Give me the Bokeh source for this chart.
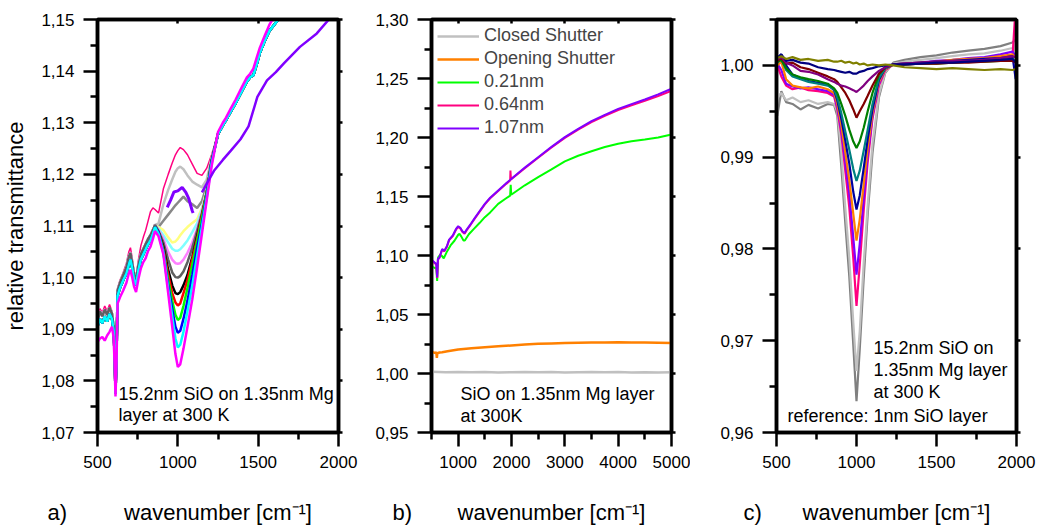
from bokeh.plotting import figure
from bokeh.models import (LinearAxis, FixedTicker, CustomJSTickFormatter,
                          Label, Legend, LegendItem, Range1d)
from bokeh.core.properties import value
from bokeh.layouts import row, column
from bokeh.embed import file_html
from bokeh.resources import INLINE

FONT = "Liberation Sans"

# ---------------- Tick positions ----------------
a_xticks = [500, 1000, 1500, 2000]
a_xminor = [750, 1250, 1750]
a_yticks = [1.07, 1.08, 1.09, 1.10, 1.11, 1.12, 1.13, 1.14, 1.15]
a_yminor = [1.075, 1.085, 1.095, 1.105, 1.115, 1.125, 1.135, 1.145]
b_xticks = [1000, 2000, 3000, 4000, 5000]
b_xminor = [500, 1500, 2500, 3500, 4500]
b_yticks = [0.95, 1.00, 1.05, 1.10, 1.15, 1.20, 1.25, 1.30]
b_yminor = [0.975, 1.025, 1.075, 1.125, 1.175, 1.225, 1.275]
c_xticks = [500, 1000, 1500, 2000]
c_xminor = [750, 1250, 1750]
c_yticks = [0.96, 0.97, 0.98, 0.99, 1.00]
c_yminor = [0.965, 0.975, 0.985, 0.995, 1.005]

panel_tags = ["a)", "b)", "c)"]
x_title = "wavenumber [cm\u207b\u00b9]"

# ---------------- Panel a data ----------------
wn_low = [500, 515, 530, 545, 560, 575, 590, 600, 607, 612, 618, 625, 640, 660, 680,
          695, 705, 715, 728, 740, 755, 770, 785, 800, 815, 830, 845, 858]
low_top = [1.0915, 1.0935, 1.0925, 1.0938, 1.0928, 1.0942, 1.093, 1.0905, 1.085, 1.078,
           1.085, 1.0975, 1.099, 1.1005, 1.102, 1.104, 1.1048, 1.103, 1.1005, 1.0995,
           1.1025, 1.1045, 1.1055, 1.1065, 1.1075, 1.1082, 1.1092, 1.1102]
low_mid = [1.0905, 1.092, 1.0912, 1.0925, 1.0915, 1.093, 1.092, 1.0898, 1.0845, 1.0775,
           1.084, 1.0965, 1.098, 1.0995, 1.1008, 1.1025, 1.1035, 1.102, 1.0995, 1.0985,
           1.1015, 1.1035, 1.1045, 1.1055, 1.1065, 1.1072, 1.1085, 1.1098]
low_mag = [1.0875, 1.0882, 1.0885, 1.0878, 1.0888, 1.0895, 1.0905, 1.0885, 1.083, 1.077,
           1.083, 1.095, 1.0962, 1.0975, 1.099, 1.1008, 1.1015, 1.1002, 1.0982, 1.0972,
           1.0998, 1.1018, 1.103, 1.1038, 1.1052, 1.106, 1.1075, 1.109]
low_pink = [1.0925, 1.094, 1.0932, 1.0945, 1.0935, 1.0948, 1.0935, 1.091, 1.0855, 1.0785,
            1.086, 1.098, 1.0995, 1.101, 1.1028, 1.105, 1.1058, 1.104, 1.1012, 1.1002,
            1.1035, 1.1062, 1.1078, 1.1092, 1.111, 1.1128, 1.1135, 1.1132]

wn_dip = [880, 910, 940, 965, 985, 1000, 1015, 1035, 1060, 1090, 1120, 1150, 1180, 1210]
dip_pink = [1.1125, 1.1172, 1.12, 1.1222, 1.1238, 1.1246, 1.1252, 1.1248, 1.1238, 1.122, 1.1202, 1.1198, 1.1212, 1.1238]
dip_ltgray = [1.1105, 1.1142, 1.117, 1.119, 1.1205, 1.1212, 1.1215, 1.121, 1.1198, 1.1186, 1.118, 1.1175, 1.119, 1.1232]
dip_gray = [1.1098, 1.111, 1.1122, 1.1132, 1.114, 1.1145, 1.115, 1.1157, 1.1148, 1.1142, 1.1135, 1.1148, 1.1178, 1.1228]
dip_yellow = [1.1098, 1.1092, 1.1078, 1.1068, 1.107, 1.1075, 1.1082, 1.109, 1.1098, 1.1106, 1.1113, 1.1135, 1.117, 1.1225]
dip_ltcyan = [1.1095, 1.1082, 1.1068, 1.1056, 1.1052, 1.1052, 1.1055, 1.1062, 1.1072, 1.1088, 1.1105, 1.1132, 1.117, 1.1225]
dip_ltmag = [1.1092, 1.1075, 1.105, 1.1035, 1.1028, 1.1027, 1.1028, 1.1035, 1.1048, 1.1068, 1.1095, 1.1128, 1.1168, 1.1225]
dip_dgray = [1.109, 1.1068, 1.1035, 1.101, 1.1001, 1.1, 1.1003, 1.1012, 1.103, 1.1058, 1.109, 1.1125, 1.1165, 1.1225]
dip_black = [1.1088, 1.106, 1.1015, 1.0985, 1.097, 1.0968, 1.0972, 1.0985, 1.1005, 1.104, 1.108, 1.112, 1.1165, 1.1225]
dip_red = [1.1088, 1.1055, 1.1005, 1.097, 1.0952, 1.0946, 1.095, 1.097, 1.0995, 1.1035, 1.1075, 1.112, 1.1165, 1.1225]
dip_green = [1.1088, 1.1052, 1.0995, 1.0955, 1.0928, 1.0918, 1.0922, 1.0945, 1.098, 1.1025, 1.107, 1.1115, 1.1165, 1.1225]
dip_blue = [1.1088, 1.105, 1.0985, 1.094, 1.0905, 1.0893, 1.0897, 1.092, 1.0955, 1.1005, 1.1058, 1.1105, 1.116, 1.1225]
dip_cyan = [1.1085, 1.1048, 1.0978, 1.0925, 1.0882, 1.0865, 1.087, 1.0895, 1.0935, 1.0985, 1.1042, 1.1098, 1.1155, 1.122]
dip_mag = [1.108, 1.1045, 1.097, 1.0905, 1.0852, 1.0827, 1.0832, 1.0862, 1.0905, 1.0958, 1.102, 1.1085, 1.115, 1.1215]

wn_high = [1250, 1280, 1300, 1330, 1360, 1400, 1430, 1450, 1470, 1490, 1510, 1540, 1570, 1600, 1630, 1660]
high_main = [1.1278, 1.1295, 1.1305, 1.1322, 1.1338, 1.1362, 1.138, 1.1388, 1.1392, 1.1412,
             1.1435, 1.1458, 1.1478, 1.149, 1.1502, 1.1515]
high_mag = [1.1282, 1.13, 1.131, 1.1328, 1.1345, 1.137, 1.1388, 1.1395, 1.1405, 1.1425,
            1.1445, 1.1468, 1.149, 1.1505, 1.152, 1.153]

violet_a1_x = [934, 955, 976, 1000, 1027, 1050, 1068, 1089, 1095]
violet_a1_y = [1.1136, 1.115, 1.1166, 1.1168, 1.1175, 1.1165, 1.1153, 1.113, 1.1125]
violet_a2_x = [1150, 1190, 1225, 1280, 1330, 1390, 1440, 1495, 1555, 1610, 1660, 1760, 1865, 1940, 1960]
violet_a2_y = [1.1165, 1.1188, 1.1207, 1.1228, 1.1246, 1.1268, 1.1293, 1.135, 1.1382, 1.1398,
               1.1415, 1.1447, 1.1473, 1.150, 1.151]

# ---------------- Panel b data ----------------
b_closed_x = [510, 760, 1000, 1250, 1500, 1750, 2000, 2250, 2500, 2750, 3000, 3250, 3500,
              3750, 4000, 4250, 4500, 4750, 5000]
b_closed_y = [1.0015, 1.0011, 1.0013, 1.001, 1.0012, 1.0009, 1.0011, 1.0013, 1.001, 1.0012,
              1.0009, 1.0011, 1.0013, 1.001, 1.0012, 1.0009, 1.0011, 1.0008, 1.0010]
b_open_x = [510, 560, 590, 600, 610, 650, 700, 800, 1000, 1250, 1500, 1750, 2000, 2250, 2500,
            2750, 3000, 3250, 3500, 3750, 4000, 4250, 4500, 4750, 5000]
b_open_y = [1.0183, 1.0175, 1.0178, 1.0132, 1.0172, 1.0178, 1.018, 1.0188, 1.0203, 1.0213,
            1.0222, 1.023, 1.0238, 1.0245, 1.0252, 1.0255, 1.0258, 1.026, 1.0262, 1.0263,
            1.0264, 1.0263, 1.0262, 1.026, 1.0258]
b_021_x = [510, 560, 590, 606, 625, 660, 700, 730, 780, 857, 930, 1000, 1025, 1060, 1100, 1125,
           1200, 1295, 1400, 1500, 1600, 1750, 1900, 1975, 1985, 1995, 2250, 2500, 2750, 3000,
           3250, 3500, 3750, 4000, 4250, 4500, 4750, 5000]
b_021_y = [1.0905, 1.0895, 1.0895, 1.0785, 1.0985, 1.1005, 1.0995, 1.0975, 1.1025, 1.1085,
           1.1125, 1.1175, 1.1184, 1.116, 1.1128, 1.1127, 1.118, 1.1226, 1.1275, 1.1325,
           1.1365, 1.1438, 1.1485, 1.1508, 1.16, 1.1515, 1.1595, 1.1664, 1.173, 1.1797,
           1.1845, 1.1884, 1.192, 1.1947, 1.1968, 1.1983, 1.2, 1.2025]
b_064_x = [510, 560, 590, 606, 620, 650, 700, 740, 790, 830, 900, 960, 1000, 1040, 1080, 1120,
           1160, 1230, 1300, 1400, 1500, 1600, 1750, 1900, 1975, 1980, 1990, 2250, 2500, 2750,
           3000, 3250, 3500, 3750, 4000, 4250, 4500, 4750, 5000]
b_064_y = [1.0955, 1.0935, 1.0925, 1.081, 1.0965, 1.098, 1.105, 1.1035, 1.1075, 1.113, 1.1165,
           1.122, 1.1243, 1.123, 1.12, 1.1185, 1.1215, 1.1258, 1.1305, 1.137, 1.1433, 1.1485,
           1.1546, 1.1607, 1.1635, 1.172, 1.1645, 1.174, 1.1828, 1.1915, 1.1997, 1.2066,
           1.213, 1.2183, 1.2233, 1.2272, 1.231, 1.2352, 1.2395]
b_107_x = [510, 560, 590, 606, 620, 650, 700, 740, 790, 830, 900, 960, 1000, 1040, 1080, 1120,
           1160, 1230, 1300, 1400, 1500, 1600, 1750, 1900, 2000, 2250, 2500, 2750, 3000, 3250,
           3500, 3750, 4000, 4250, 4500, 4750, 5000]
b_107_y = [1.096, 1.094, 1.093, 1.0815, 1.097, 1.0985, 1.1055, 1.104, 1.108, 1.1135, 1.117,
           1.1225, 1.1248, 1.1235, 1.1205, 1.119, 1.122, 1.1263, 1.131, 1.1375, 1.1438, 1.149,
           1.1551, 1.1612, 1.165, 1.1745, 1.1833, 1.1921, 1.2003, 1.2073, 1.2138, 1.2192,
           1.2243, 1.2283, 1.2322, 1.2365, 1.2413]
b_legend = ["Closed Shutter", "Opening Shutter", "0.21nm", "0.64nm", "1.07nm"]

# ---------------- Panel c data ----------------
c_x = [505, 530, 560, 600, 650, 700, 760, 820, 860,
       880, 905, 930, 955, 980, 1000, 1020, 1045, 1070, 1100, 1140, 1180, 1230,
       1300, 1400, 1500, 1600, 1700, 1800, 1900, 1975, 1995]
c_gray = [0.9945, 0.9972, 0.996, 0.9958, 0.9952, 0.9957, 0.9953, 0.9958, 0.9957,
          0.9945, 0.989, 0.9828, 0.977, 0.9695, 0.9634, 0.969, 0.9768, 0.9838, 0.9905, 0.9965, 0.9992, 1.0003,
          1.0006, 1.0009, 1.0011, 1.0014, 1.0016, 1.0018, 1.0021, 1.0025, 1.0028]
c_ltgray = [0.9965, 0.997, 0.9962, 0.9965, 0.996, 0.9962, 0.9958, 0.996, 0.9958,
            0.995, 0.9905, 0.9845, 0.979, 0.972, 0.9667, 0.971, 0.9785, 0.9848, 0.9915, 0.9968, 0.9993, 1.0002,
            1.0004, 1.0006, 1.0008, 1.001, 1.0012, 1.0013, 1.0016, 1.0019, 1.002]
c_pink = [1.0, 0.9988, 0.9978, 0.9974, 0.9976, 0.9973, 0.9972, 0.997, 0.9966,
          0.9952, 0.9925, 0.9885, 0.9845, 0.979, 0.9738, 0.9782, 0.9842, 0.9895, 0.9942, 0.9978, 0.9995, 1.0001,
          1.0001, 1.0002, 1.0003, 1.0004, 1.0005, 1.0006, 1.0007, 1.0009, 1.0065]
c_violet = [1.0002, 0.9995, 0.998, 0.9977, 0.9975, 0.9976, 0.9974, 0.9972, 0.9968,
            0.9955, 0.993, 0.9895, 0.986, 0.9812, 0.9772, 0.9805, 0.9855, 0.9902, 0.9945, 0.998, 0.9996, 1.0001,
            1.0002, 1.0003, 1.0005, 1.0006, 1.0008, 1.0009, 1.0012, 1.0015, 1.001]
c_orange = [1.0, 1.0004, 0.9985, 0.9978, 0.9976, 0.9975, 0.9977, 0.9974, 0.997,
            0.9958, 0.9935, 0.9905, 0.9875, 0.9838, 0.9809, 0.9832, 0.987, 0.991, 0.9948, 0.9982, 0.9996, 1.0001,
            1.0002, 1.0003, 1.0004, 1.0006, 1.0007, 1.0008, 1.001, 1.0012, 1.0008]
c_royal = [1.0008, 1.0012, 1.0, 0.999, 0.9986, 0.9983, 0.9981, 0.9979, 0.9973,
           0.9962, 0.9942, 0.9918, 0.9893, 0.9862, 0.9843, 0.9858, 0.9888, 0.992, 0.9952, 0.9984, 0.9997, 1.0001,
           1.0002, 1.0003, 1.0004, 1.0005, 1.0006, 1.0007, 1.0008, 1.001, 0.9985]
c_teal = [1.0003, 1.0007, 0.9995, 0.9988, 0.9985, 0.9982, 0.998, 0.9978, 0.9974,
          0.9965, 0.9948, 0.9928, 0.9908, 0.9887, 0.9874, 0.9885, 0.9907, 0.993, 0.9958, 0.9986, 0.9997, 1.0001,
          1.0001, 1.0002, 1.0003, 1.0003, 1.0004, 1.0005, 1.0006, 1.0007, 1.0005]
c_green = [1.0004, 1.0006, 0.9997, 0.999, 0.9987, 0.9985, 0.9983, 0.998, 0.9975,
           0.997, 0.9958, 0.9945, 0.993, 0.9917, 0.991, 0.9917, 0.9932, 0.995, 0.997, 0.999, 0.9998, 1.0001,
           1.0001, 1.0002, 1.0002, 1.0003, 1.0004, 1.0004, 1.0005, 1.0006, 1.0004]
c_maroon = [1.0005, 1.0008, 1.0002, 1.0003, 0.9998, 0.9996, 0.9992, 0.9988, 0.9985,
            0.9982, 0.9976, 0.997, 0.9962, 0.9952, 0.9943, 0.995, 0.9958, 0.9967, 0.9978, 0.9991, 0.9998, 1.0001,
            1.0001, 1.0002, 1.0002, 1.0003, 1.0003, 1.0004, 1.0005, 1.0005, 1.0003]
c_purple = [1.0007, 1.0009, 1.0003, 1.0, 0.9994, 0.9993, 0.999, 0.9985, 0.9982,
            0.998, 0.9978, 0.9977, 0.9975, 0.9973, 0.9971, 0.9974, 0.9978, 0.9983, 0.9988, 0.9994, 0.9998, 1.0001,
            1.0002, 1.0003, 1.0004, 1.0005, 1.0005, 1.0006, 1.0008, 1.001, 1.0009]
c_navy = [1.0008, 1.0012, 1.0005, 1.0006, 1.0003, 1.0002, 0.9998, 0.9996, 0.9995,
          0.9994, 0.9993, 0.9992, 0.9993, 0.9991, 0.9991, 0.9993, 0.9994, 0.9996, 0.9997, 0.9999, 1.0, 1.0001,
          1.0001, 1.0002, 1.0003, 1.0003, 1.0004, 1.0005, 1.0006, 1.0007, 1.0003]
c_olive = [1.0008, 1.001, 1.0007, 1.0009, 1.0006, 1.0007, 1.0005, 1.0006, 1.0004,
           1.0004, 1.0005, 1.0003, 1.0004, 1.0002, 1.0003, 1.0001, 1.0002, 1.0, 1.0001, 1.0, 1.0001, 1.0,
           0.9998, 0.9997, 0.9996, 0.9997, 0.9996, 0.9995, 0.9996, 0.9995, 0.9996]

YFMT = "return tick.toFixed(2).replace('.', ',');"


def make_fig(w, left, right, xr, yr, xt, xm, yt, ym):
    p = figure(width=w, height=490, x_range=Range1d(*xr), y_range=Range1d(*yr),
               output_backend="svg", toolbar_location=None,
               min_border_left=left, min_border_right=right, min_border_top=19, min_border_bottom=58)
    p.grid.visible = False
    p.background_fill_color = "white"
    p.border_fill_color = "white"
    p.outline_line_color = "black"
    p.outline_line_width = 3.5
    p.outline_line_alpha = 1.0
    p.xaxis.ticker = FixedTicker(ticks=xt, minor_ticks=xm)
    p.yaxis.ticker = FixedTicker(ticks=yt, minor_ticks=ym)
    p.yaxis.formatter = CustomJSTickFormatter(code=YFMT)
    for ax in (p.xaxis[0], p.yaxis[0]):
        ax.axis_line_width = 3.5
        ax.axis_line_color = "black"
        ax.major_tick_line_width = 2.5
        ax.minor_tick_line_width = 2.5
        ax.major_tick_line_color = "black"
        ax.minor_tick_line_color = "black"
        ax.major_tick_out = 14
        ax.major_tick_in = 0
        ax.minor_tick_out = 7
        ax.minor_tick_in = 0
        ax.major_label_text_font = FONT
        ax.major_label_text_font_size = "17px"
        ax.major_label_text_color = "black"
        ax.major_label_standoff = 9
        ax.axis_label_text_font = FONT
        ax.axis_label_text_font_size = "22px"
        ax.axis_label_text_font_style = "normal"
        ax.axis_label_text_color = "black"
    p.yaxis[0].axis_label_standoff = 10
    r = LinearAxis(ticker=FixedTicker(ticks=yt),
                   formatter=CustomJSTickFormatter(code="return '';"),
                   major_tick_out=4, major_tick_in=0, minor_tick_out=0, minor_tick_in=0,
                   axis_line_width=3.5, axis_line_color="black",
                   major_tick_line_width=2.5, major_tick_line_color="black",
                   major_label_text_font_size="1px", major_label_standoff=0)
    p.add_layout(r, "right")
    t = LinearAxis(ticker=FixedTicker(ticks=xt),
                   formatter=CustomJSTickFormatter(code="return '';"),
                   major_tick_out=0, major_tick_in=4, minor_tick_out=0, minor_tick_in=0,
                   axis_line_width=3.5, axis_line_color="black",
                   major_tick_line_width=2.5, major_tick_line_color="black",
                   major_label_text_font_size="1px", major_label_standoff=0)
    p.add_layout(t, "above")
    return p


def txt(p, x, y, s, size="18px"):
    p.add_layout(Label(x=x, y=y, text=s, text_font=FONT, text_font_size=size,
                       text_baseline="middle", text_align="left", text_color="black"))


# ---------------- Panel a ----------------
pa = make_fig(360, 97, 22, (500, 2000), (1.07, 1.15), a_xticks, a_xminor, a_yticks, a_yminor)
pa.yaxis[0].axis_label = "relative transmittance"

series_a = [
    (low_pink, dip_pink, high_main, "#FF0080", 1.5),
    (low_top, dip_ltgray, high_main, "#C0C0C0", 2.5),
    (low_top, dip_gray, high_main, "#888888", 2.5),
    (low_top, dip_yellow, high_main, "#FFFF80", 2.5),
    (low_top, dip_ltcyan, high_main, "#80FFFF", 2.5),
    (low_top, dip_ltmag, high_main, "#FF80FF", 2.5),
    (low_top, dip_dgray, high_main, "#606060", 2.5),
    (low_mid, dip_black, high_main, "#000000", 2.5),
    (low_mid, dip_red, high_main, "#FF0000", 2.5),
    (low_mid, dip_green, high_main, "#00FF00", 2.5),
    (low_mid, dip_blue, high_main, "#0000FF", 2.5),
    (low_mid, dip_cyan, high_main, "#00FFFF", 2.5),
    (low_mag, dip_mag, high_mag, "#FF00FF", 2.5),
]
wn_all = wn_low + wn_dip + wn_high
for lo, dp, hi, col, lw in series_a:
    pa.line(wn_all, lo + dp + hi, line_color=col, line_width=lw)
pa.line(violet_a1_x, violet_a1_y, line_color="#8000FF", line_width=3)
pa.line(violet_a2_x, violet_a2_y, line_color="#8000FF", line_width=2.5)

txt(pa, 631, 1.07755, "15.2nm SiO on 1.35nm Mg")
txt(pa, 631, 1.0733, "layer at 300 K")

# ---------------- Panel b ----------------
pb = make_fig(330, 71, 19, (500, 5000), (0.95, 1.30), b_xticks, b_xminor, b_yticks, b_yminor)
rb_closed = pb.line(b_closed_x, b_closed_y, line_color="#C0C0C0", line_width=2.5)
rb_open = pb.line(b_open_x, b_open_y, line_color="#FF8000", line_width=2.5)
rb_021 = pb.line(b_021_x, b_021_y, line_color="#00FF00", line_width=2)
rb_064 = pb.line(b_064_x, b_064_y, line_color="#FF0080", line_width=2)
rb_107 = pb.line(b_107_x, b_107_y, line_color="#8000FF", line_width=2)
legend = Legend(items=[LegendItem(label=lab, renderers=[r]) for lab, r in
                       zip(b_legend, [rb_closed, rb_open, rb_021, rb_064, rb_107])],
                location="top_left", margin=0, padding=6, spacing=2,
                glyph_width=42, glyph_height=20, label_height=20, label_standoff=5,
                label_text_font=FONT, label_text_font_size="18px",
                border_line_alpha=0, background_fill_alpha=0)
pb.add_layout(legend)
txt(pb, 1044, 0.983, "SiO on 1.35nm Mg layer")
txt(pb, 1044, 0.9644, "at 300K")

# ---------------- Panel c ----------------
pc = make_fig(354, 86, 28, (500, 2000), (0.96, 1.005), c_xticks, c_xminor, c_yticks, c_yminor)
series_c = [
    (c_gray, "#808080"), (c_ltgray, "#C0C0C0"), (c_pink, "#FF0080"), (c_violet, "#8000FF"),
    (c_orange, "#FF8000"), (c_royal, "#0000A0"), (c_teal, "#008080"), (c_green, "#008000"),
    (c_maroon, "#800000"), (c_purple, "#800080"), (c_navy, "#000080"), (c_olive, "#808000"),
]
for ys, col in series_c:
    pc.line(c_x, ys, line_color=col, line_width=2.2)
txt(pc, 1106, 0.96926, "15.2nm SiO on")
txt(pc, 1106, 0.96686, "1.35nm Mg layer")
txt(pc, 1106, 0.96436, "at 300 K")
txt(pc, 569, 0.96185, "reference: 1nm SiO layer")

# ---------------- bottom strip with panel tags and x titles ----------------
strip = figure(width=1044, height=40, x_range=Range1d(0, 1044), y_range=Range1d(0, 40),
               output_backend="svg", toolbar_location=None, x_axis_type=None, y_axis_type=None,
               min_border=0)
strip.outline_line_color = None
strip.grid.visible = False
strip.text(x=[47, 392, 743], y=[18, 18, 18], text=panel_tags,
           text_font=value(FONT), text_font_size=value("22px"), text_color="black",
           text_align="left", text_baseline="alphabetic")
strip.text(x=[217.5, 551, 896], y=[18, 18, 18], text=[x_title] * 3,
           text_font=value(FONT), text_font_size=value("22px"), text_color="black",
           text_align="center", text_baseline="alphabetic")

layout = column(row(pa, pb, pc), strip)
open("out.html", "w").write(file_html(layout, INLINE))
